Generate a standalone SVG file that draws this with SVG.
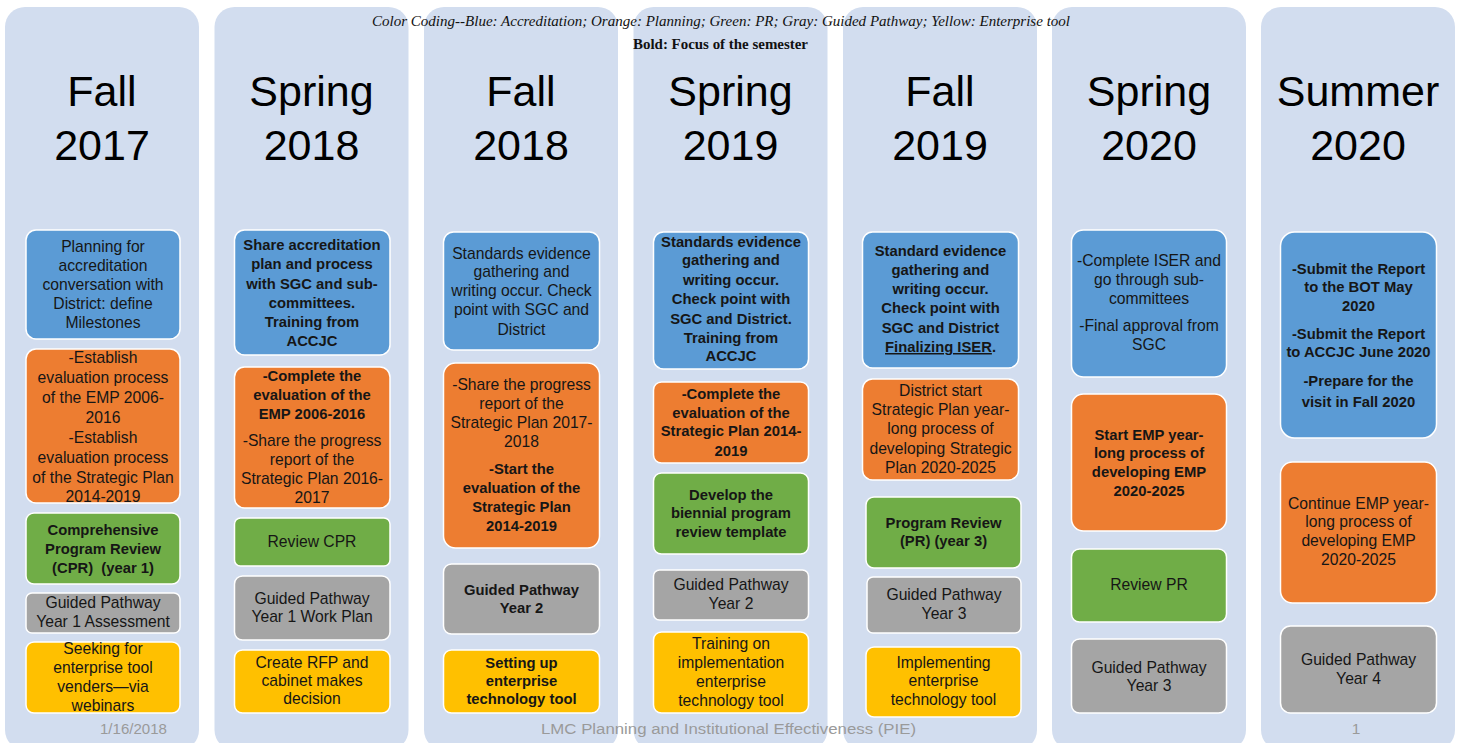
<svg xmlns="http://www.w3.org/2000/svg" width="1458" height="743" viewBox="0 0 1458 743">
  <style>
    .col { fill: #d2ddef; }
    .box { stroke: #ffffff; stroke-width: 1.5; }
    .blue { fill: #5b9bd5; }
    .orange { fill: #ed7d31; }
    .green { fill: #70ad47; }
    .gray { fill: #a5a5a5; }
    .yellow { fill: #ffc000; }
    .title { font-family: "Liberation Sans", Arial, sans-serif; font-size: 43px; fill: #000; text-anchor: middle; }
    text.t, text.b { font-family: "Liberation Sans", Arial, sans-serif; fill: #161616; text-anchor: middle; }
    .t { font-size: 15.7px; }
    .b { font-size: 14.8px; font-weight: bold; }
    .foot { font-family: "Liberation Sans", Arial, sans-serif; font-size: 15.5px; fill: #9a9a9a; }
    .hdr { font-family: "Liberation Serif", "Times New Roman", serif; font-size: 14.5px; fill: #111; text-anchor: middle; }
  </style>

  <rect width="1458" height="743" fill="#ffffff"/>

  <!-- semester columns -->
  <g id="columns">
    <rect class="col" x="5" y="7" width="194" height="743" rx="20"/>
    <rect class="col" x="214.5" y="7" width="194" height="743" rx="20"/>
    <rect class="col" x="424" y="7" width="194" height="743" rx="20"/>
    <rect class="col" x="633.5" y="7" width="194" height="743" rx="20"/>
    <rect class="col" x="843" y="7" width="194" height="743" rx="20"/>
    <rect class="col" x="1052" y="7" width="194" height="743" rx="20"/>
    <rect class="col" x="1261" y="7" width="194" height="743" rx="20"/>
  </g>

  <!-- legend -->
  <g id="legend">
    <text class="hdr" x="721" y="26" font-style="italic" textLength="698" lengthAdjust="spacingAndGlyphs">Color Coding--Blue: Accreditation; Orange: Planning; Green: PR; Gray: Guided Pathway; Yellow: Enterprise tool</text>
    <text class="hdr" x="720.5" y="49" font-weight="bold" textLength="175" lengthAdjust="spacingAndGlyphs">Bold: Focus of the semester</text>
  </g>

  <!-- semester titles -->
  <g id="titles">
    <text class="title" x="102" y="106">Fall</text><text class="title" x="102" y="160">2017</text>
    <text class="title" x="311.5" y="106">Spring</text><text class="title" x="311.5" y="160">2018</text>
    <text class="title" x="521" y="106">Fall</text><text class="title" x="521" y="160">2018</text>
    <text class="title" x="730.5" y="106">Spring</text><text class="title" x="730.5" y="160">2019</text>
    <text class="title" x="940" y="106">Fall</text><text class="title" x="940" y="160">2019</text>
    <text class="title" x="1149" y="106">Spring</text><text class="title" x="1149" y="160">2020</text>
    <text class="title" x="1358" y="106">Summer</text><text class="title" x="1358" y="160">2020</text>
  </g>

  <!-- Fall 2017 -->
  <g id="fall2017">
    <g id="f17-accreditation">
      <rect class="box blue" x="26" y="230" width="154" height="109" rx="10"/>
      <text class="t" x="103" y="252">Planning for</text>
      <text class="t" x="103" y="271">accreditation</text>
      <text class="t" x="103" y="290">conversation with</text>
      <text class="t" x="103" y="309">District: define</text>
      <text class="t" x="103" y="328">Milestones</text>
    </g>
    <g id="f17-planning">
      <rect class="box orange" x="26" y="349" width="154" height="154" rx="10"/>
      <text class="t" x="103" y="362.5">-Establish</text>
      <text class="t" x="103" y="382.5">evaluation process</text>
      <text class="t" x="103" y="402.5">of the EMP 2006-</text>
      <text class="t" x="103" y="422.5">2016</text>
      <text class="t" x="103" y="442.5">-Establish</text>
      <text class="t" x="103" y="462.5">evaluation process</text>
      <text class="t" x="103" y="482.5">of the Strategic Plan</text>
      <text class="t" x="103" y="502">2014-2019</text>
    </g>
    <g id="f17-pr">
      <rect class="box green" x="26" y="513" width="154" height="71" rx="8"/>
      <text class="b" x="103" y="535">Comprehensive</text>
      <text class="b" x="103" y="554">Program Review</text>
      <text class="b" x="103" y="573" xml:space="preserve">(CPR)  (year 1)</text>
    </g>
    <g id="f17-pathway">
      <rect class="box gray" x="26" y="593" width="154" height="40" rx="6"/>
      <text class="t" x="103" y="608">Guided Pathway</text>
      <text class="t" x="103" y="627">Year 1 Assessment</text>
    </g>
    <g id="f17-tool">
      <rect class="box yellow" x="26" y="642" width="154" height="71" rx="8"/>
      <text class="t" x="103" y="654">Seeking for</text>
      <text class="t" x="103" y="673">enterprise tool</text>
      <text class="t" x="103" y="692">venders—via</text>
      <text class="t" x="103" y="711">webinars</text>
    </g>
  </g>

  <!-- Spring 2018 -->
  <g id="spring2018">
    <g id="s18-accreditation">
      <rect class="box blue" x="234.5" y="230" width="155.5" height="125" rx="10"/>
      <text class="b" x="312" y="250">Share accreditation</text>
      <text class="b" x="312" y="269">plan and process</text>
      <text class="b" x="312" y="288.5">with SGC and sub-</text>
      <text class="b" x="312" y="307.5">committees.</text>
      <text class="b" x="312" y="327">Training from</text>
      <text class="b" x="312" y="346">ACCJC</text>
    </g>
    <g id="s18-planning">
      <rect class="box orange" x="234.5" y="367" width="155.5" height="141" rx="10"/>
      <text class="b" x="312" y="381">-Complete the</text>
      <text class="b" x="312" y="399.5">evaluation of the</text>
      <text class="b" x="312" y="418.5">EMP 2006-2016</text>
      <text class="t" x="312" y="446">-Share the progress</text>
      <text class="t" x="312" y="464.5">report of the</text>
      <text class="t" x="312" y="483.5">Strategic Plan 2016-</text>
      <text class="t" x="312" y="503">2017</text>
    </g>
    <g id="s18-pr">
      <rect class="box green" x="234.5" y="518" width="155.5" height="48" rx="6"/>
      <text class="t" x="312" y="547">Review CPR</text>
    </g>
    <g id="s18-pathway">
      <rect class="box gray" x="234.5" y="576" width="155.5" height="64" rx="8"/>
      <text class="t" x="312" y="603.5">Guided Pathway</text>
      <text class="t" x="312" y="622">Year 1 Work Plan</text>
    </g>
    <g id="s18-tool">
      <rect class="box yellow" x="234.5" y="650" width="155.5" height="63" rx="8"/>
      <text class="t" x="312" y="667.5">Create RFP and</text>
      <text class="t" x="312" y="686">cabinet makes</text>
      <text class="t" x="312" y="704">decision</text>
    </g>
  </g>

  <!-- Fall 2018 -->
  <g id="fall2018">
    <g id="f18-accreditation">
      <rect class="box blue" x="443.5" y="232" width="156" height="118" rx="10"/>
      <text class="t" x="521.5" y="258.5">Standards evidence</text>
      <text class="t" x="521.5" y="277">gathering and</text>
      <text class="t" x="521.5" y="296">writing occur. Check</text>
      <text class="t" x="521.5" y="315">point with SGC and</text>
      <text class="t" x="521.5" y="334.5">District</text>
    </g>
    <g id="f18-planning">
      <rect class="box orange" x="443.5" y="363" width="156" height="185" rx="12"/>
      <text class="t" x="521.5" y="390">-Share the progress</text>
      <text class="t" x="521.5" y="408.5">report of the</text>
      <text class="t" x="521.5" y="428">Strategic Plan 2017-</text>
      <text class="t" x="521.5" y="447">2018</text>
      <text class="b" x="521.5" y="473.5">-Start the</text>
      <text class="b" x="521.5" y="492.5">evaluation of the</text>
      <text class="b" x="521.5" y="512">Strategic Plan</text>
      <text class="b" x="521.5" y="531">2014-2019</text>
    </g>
    <g id="f18-pathway">
      <rect class="box gray" x="443.5" y="564" width="156" height="70" rx="8"/>
      <text class="b" x="521.5" y="594.5">Guided Pathway</text>
      <text class="b" x="521.5" y="613">Year 2</text>
    </g>
    <g id="f18-tool">
      <rect class="box yellow" x="443.5" y="650" width="156" height="63" rx="8"/>
      <text class="b" x="521.5" y="667.5">Setting up</text>
      <text class="b" x="521.5" y="686">enterprise</text>
      <text class="b" x="521.5" y="704">technology tool</text>
    </g>
  </g>

  <!-- Spring 2019 -->
  <g id="spring2019">
    <g id="s19-accreditation">
      <rect class="box blue" x="653.5" y="232" width="155" height="137" rx="10"/>
      <text class="b" x="731" y="247">Standards evidence</text>
      <text class="b" x="731" y="265">gathering and</text>
      <text class="b" x="731" y="284.5">writing occur.</text>
      <text class="b" x="731" y="304">Check point with</text>
      <text class="b" x="731" y="323.5">SGC and District.</text>
      <text class="b" x="731" y="343">Training from</text>
      <text class="b" x="731" y="361">ACCJC</text>
    </g>
    <g id="s19-planning">
      <rect class="box orange" x="653.5" y="382" width="155" height="81" rx="8"/>
      <text class="b" x="731" y="399">-Complete the</text>
      <text class="b" x="731" y="417.5">evaluation of the</text>
      <text class="b" x="731" y="436">Strategic Plan 2014-</text>
      <text class="b" x="731" y="456">2019</text>
    </g>
    <g id="s19-pr">
      <rect class="box green" x="653.5" y="473" width="155" height="81" rx="8"/>
      <text class="b" x="731" y="499.5">Develop the</text>
      <text class="b" x="731" y="518">biennial program</text>
      <text class="b" x="731" y="537">review template</text>
    </g>
    <g id="s19-pathway">
      <rect class="box gray" x="653.5" y="570" width="155" height="50" rx="6"/>
      <text class="t" x="731" y="589.5">Guided Pathway</text>
      <text class="t" x="731" y="608.5">Year 2</text>
    </g>
    <g id="s19-tool">
      <rect class="box yellow" x="653.5" y="632" width="155" height="81" rx="8"/>
      <text class="t" x="731" y="648.5">Training on</text>
      <text class="t" x="731" y="667.5">implementation</text>
      <text class="t" x="731" y="687">enterprise</text>
      <text class="t" x="731" y="706">technology tool</text>
    </g>
  </g>

  <!-- Fall 2019 -->
  <g id="fall2019">
    <g id="f19-accreditation">
      <rect class="box blue" x="862.5" y="232" width="156" height="136" rx="10"/>
      <text class="b" x="940.5" y="256">Standard evidence</text>
      <text class="b" x="940.5" y="274.5">gathering and</text>
      <text class="b" x="940.5" y="293.5">writing occur.</text>
      <text class="b" x="940.5" y="313">Check point with</text>
      <text class="b" x="940.5" y="332.5">SGC and District</text>
      <text class="b" x="940.5" y="352"><tspan text-decoration="underline">Finalizing ISER</tspan>.</text>
    </g>
    <g id="f19-planning">
      <rect class="box orange" x="862.5" y="379" width="156" height="101" rx="10"/>
      <text class="t" x="940.5" y="396">District start</text>
      <text class="t" x="940.5" y="415">Strategic Plan year-</text>
      <text class="t" x="940.5" y="434">long process of</text>
      <text class="t" x="940.5" y="453.5">developing Strategic</text>
      <text class="t" x="940.5" y="473">Plan 2020-2025</text>
    </g>
    <g id="f19-pr">
      <rect class="box green" x="866" y="497" width="155" height="71" rx="8"/>
      <text class="b" x="943.5" y="528">Program Review</text>
      <text class="b" x="943.5" y="546">(PR) (year 3)</text>
    </g>
    <g id="f19-pathway">
      <rect class="box gray" x="867" y="577" width="154" height="56" rx="6"/>
      <text class="t" x="944" y="600">Guided Pathway</text>
      <text class="t" x="944" y="618.5">Year 3</text>
    </g>
    <g id="f19-tool">
      <rect class="box yellow" x="866" y="647" width="155" height="70" rx="8"/>
      <text class="t" x="943.5" y="667.5">Implementing</text>
      <text class="t" x="943.5" y="686">enterprise</text>
      <text class="t" x="943.5" y="705">technology tool</text>
    </g>
  </g>

  <!-- Spring 2020 -->
  <g id="spring2020">
    <g id="s20-accreditation">
      <rect class="box blue" x="1071.5" y="230" width="155" height="147" rx="12"/>
      <text class="t" x="1149" y="266">-Complete ISER and</text>
      <text class="t" x="1149" y="284.5">go through sub-</text>
      <text class="t" x="1149" y="304">committees</text>
      <text class="t" x="1149" y="331">-Final approval from</text>
      <text class="t" x="1149" y="349.5">SGC</text>
    </g>
    <g id="s20-planning">
      <rect class="box orange" x="1071.5" y="394" width="155" height="137" rx="12"/>
      <text class="b" x="1149" y="439.5">Start EMP year-</text>
      <text class="b" x="1149" y="458">long process of</text>
      <text class="b" x="1149" y="477">developing EMP</text>
      <text class="b" x="1149" y="496">2020-2025</text>
    </g>
    <g id="s20-pr">
      <rect class="box green" x="1071.5" y="549" width="155" height="73" rx="8"/>
      <text class="t" x="1149" y="590">Review PR</text>
    </g>
    <g id="s20-pathway">
      <rect class="box gray" x="1071.5" y="639" width="155" height="74" rx="8"/>
      <text class="t" x="1149" y="672.5">Guided Pathway</text>
      <text class="t" x="1149" y="691">Year 3</text>
    </g>
  </g>

  <!-- Summer 2020 -->
  <g id="summer2020">
    <g id="u20-accreditation">
      <rect class="box blue" x="1280.5" y="232" width="156" height="206" rx="14"/>
      <text class="b" x="1358.5" y="273.5">-Submit the Report</text>
      <text class="b" x="1358.5" y="292">to the BOT May</text>
      <text class="b" x="1358.5" y="311">2020</text>
      <text class="b" x="1358.5" y="338.5">-Submit the Report</text>
      <text class="b" x="1358.5" y="357">to ACCJC June 2020</text>
      <text class="b" x="1358.5" y="386">-Prepare for the</text>
      <text class="b" x="1358.5" y="406.5">visit in Fall 2020</text>
    </g>
    <g id="u20-planning">
      <rect class="box orange" x="1280.5" y="462" width="156" height="141" rx="12"/>
      <text class="t" x="1358.5" y="508.5">Continue EMP year-</text>
      <text class="t" x="1358.5" y="527">long process of</text>
      <text class="t" x="1358.5" y="545.5">developing EMP</text>
      <text class="t" x="1358.5" y="565">2020-2025</text>
    </g>
    <g id="u20-pathway">
      <rect class="box gray" x="1280.5" y="626" width="156" height="87" rx="10"/>
      <text class="t" x="1358.5" y="665">Guided Pathway</text>
      <text class="t" x="1358.5" y="683.5">Year 4</text>
    </g>
  </g>

  <!-- slide footer -->
  <g id="footer">
    <text class="foot" x="167" y="734" text-anchor="end" textLength="67" lengthAdjust="spacingAndGlyphs">1/16/2018</text>
    <text class="foot" x="728.5" y="734" text-anchor="middle" textLength="375" lengthAdjust="spacingAndGlyphs">LMC Planning and Institutional Effectiveness (PIE)</text>
    <text class="foot" x="1356" y="734" text-anchor="middle">1</text>
  </g>
</svg>
